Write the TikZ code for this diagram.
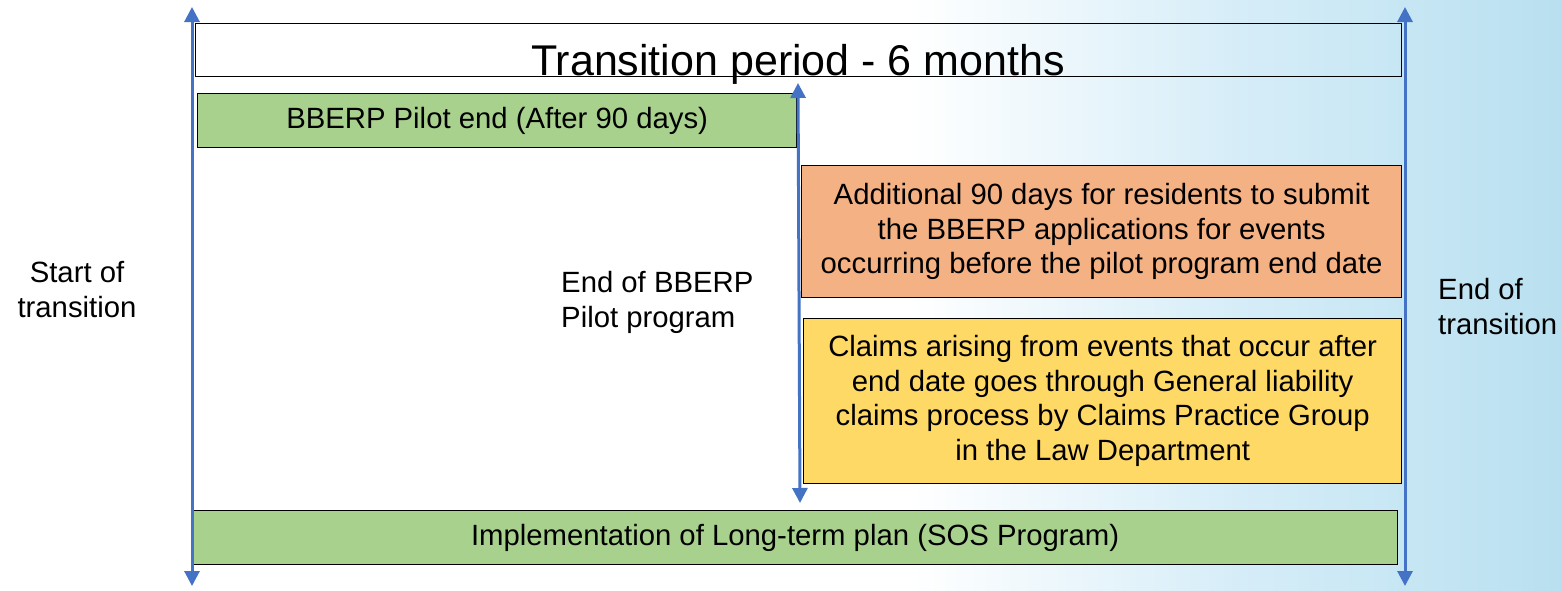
\documentclass[tikz,border=0pt]{standalone}
\usepackage{fontspec}
\setmainfont{Liberation Sans}
\usetikzlibrary{arrows.meta}
\definecolor{arrowblue}{HTML}{4472C4}
\definecolor{boxgreen}{HTML}{A9D18E}
\definecolor{boxorange}{HTML}{F4B183}
\definecolor{boxyellow}{HTML}{FFD966}
\definecolor{bgblue}{HTML}{B9E0F0}
\definecolor{bgmid}{HTML}{D6EDF8}
\tikzset{
  bar/.style={draw=black, line width=1.3pt, minimum height=54pt, inner sep=0pt, anchor=north west, font=\fontsize{29.3}{34}\selectfont},
  infobox/.style={draw=black, line width=1.3pt, inner sep=0pt, anchor=north west, align=center, font=\fontsize{29.3}{34.5}\selectfont},
  timearrow/.style={arrowblue, line width=3pt, {Triangle[width=15pt,length=15pt]}-{Triangle[width=15pt,length=15pt]}},
  lbl/.style={font=\fontsize{29.3}{35}\selectfont, inner sep=0pt}
}
\begin{document}
\begin{tikzpicture}[x=1pt,y=-1pt]
\useasboundingbox (0,0) rectangle (1561,590);
\fill[white] (0,0) rectangle (920,590);
\shade[left color=white, right color=bgblue, middle color=bgmid] (910,0) rectangle (1561,590);
% title box
\node[draw=black, line width=1.3pt, minimum width=1206pt, minimum height=53pt, inner sep=0pt, anchor=north west] (title) at (195,23) {};
\node[font=\fontsize{43}{46}\selectfont, inner sep=0pt, anchor=base] (titletext) at (798,75) {Transition period - 6 months};
% bars
\node[bar, fill=boxgreen, minimum width=599pt] (pilot) at (197,93) {BBERP Pilot end (After 90 days)};
\node[infobox, fill=boxorange, minimum width=600pt, minimum height=132pt] (orange) at (801,165) {Additional 90 days for residents to submit\\the BBERP applications for events\\occurring before the pilot program end date};
\node[infobox, fill=boxyellow, minimum width=598pt, minimum height=165pt] (yellow) at (803,318) {Claims arising from events that occur after\\end date goes through General liability\\claims process by Claims Practice Group\\in the Law Department};
\node[bar, fill=boxgreen, minimum width=1205pt] (sos) at (192,510) {Implementation of Long-term plan (SOS Program)};
% arrow endpoints
\coordinate (lt) at (192,7);
\coordinate (lb) at (192,586);
\coordinate (rt) at (1405,7);
\coordinate (rb) at (1405,586);
\coordinate (mt) at (798,83);
\coordinate (mb) at (800,503);
\draw[timearrow] (lb) -- (lt);
\draw[timearrow] (rb) -- (rt);
\draw[timearrow] (mb) -- (mt);
% labels
\node[lbl, align=center] (start) at (77,290) {Start of\\transition};
\node[lbl, align=left, anchor=west] (endpilot) at (561,302) {End of BBERP\\Pilot program};
\node[lbl, align=left, anchor=west] (endtrans) at (1438,307) {End of\\transition};
\end{tikzpicture}
\end{document}
